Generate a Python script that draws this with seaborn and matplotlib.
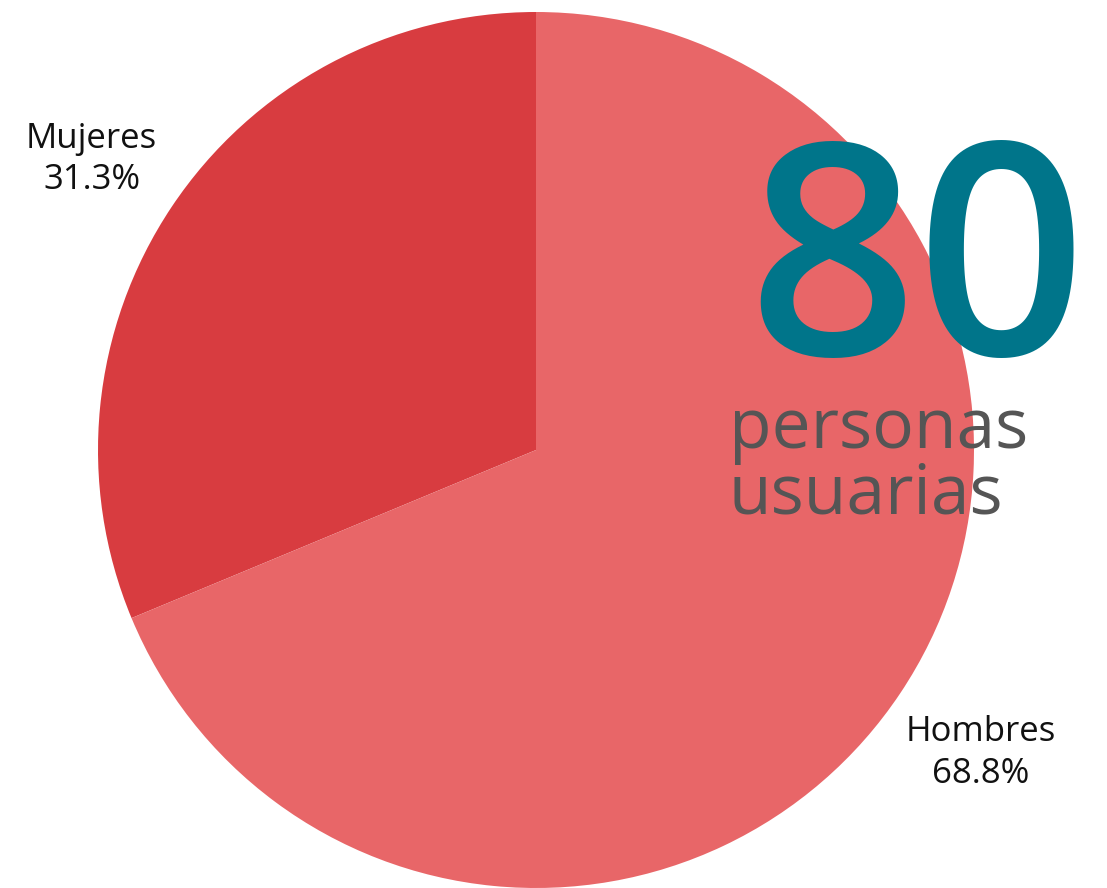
import matplotlib
matplotlib.use("Agg")
import matplotlib.pyplot as plt
import seaborn as sns

# -------------------------
# Data
# -------------------------
categories = ["Mujeres", "Hombres"]
percentages = [31.3, 68.8]
total_users = 80
colors = ["#D83C40", "#E86668"]

# -------------------------
# Plot
# -------------------------
sns.set_theme(style="white")
plt.rcParams["font.family"] = ["Open Sans", "DejaVu Sans"]

fig = plt.figure(figsize=(11.07, 8.88), dpi=100)
ax = fig.add_axes([(536 - 438) / 1107, 0, 876 / 1107, 876 / 888])

labels = [f"{c}\n{p}%" for c, p in zip(categories, percentages)]
wedges, texts = ax.pie(
    percentages,
    labels=labels,
    colors=colors,
    startangle=90,
    counterclock=True,
    radius=1,
    labeldistance=1.22,
    wedgeprops=dict(linewidth=0),
    textprops=dict(ha="center", va="center", fontsize=25, color="#111111",
                   linespacing=1.3),
)
# nudge labels slightly down
for t in texts:
    x, y = t.get_position()
    t.set_position((x, y - 0.014))

ax.set_xlim(-1, 1)
ax.set_ylim(-1, 1)
ax.set_aspect("equal")
ax.axis("off")

fig.text(917 / 1107, 1 - 355 / 888, str(total_users), fontsize=214,
         fontweight="semibold", color="#00758A", ha="center", va="baseline")
fig.text(729 / 1107, 1 - 514 / 888, "personas\nusuarias", fontsize=50,
         color="#555555", ha="left", va="baseline", linespacing=0.92)

fig.savefig("out.png", dpi=100)
